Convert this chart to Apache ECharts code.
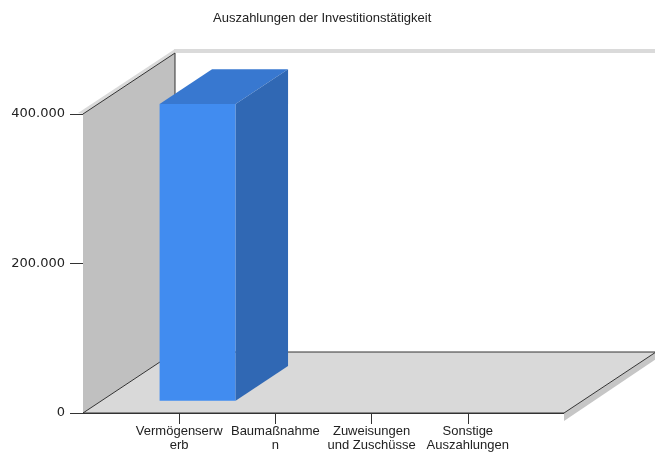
<!DOCTYPE html>
<html>
<head>
<meta charset="utf-8">
<script src="https://cdn.jsdelivr.net/npm/echarts@6/dist/echarts.min.js"></script>
<style>
  html, body { margin: 0; padding: 0; background: #fff; }
  #chart { width: 655px; height: 453px; }
</style>
</head>
<body>
<div id="chart"></div>
<script>
const TITLE = "Auszahlungen der Investitionstätigkeit";
// categories sit at x = 1..4 on a 0..5 axis, as in the original 3D chart
const CATEGORY_POS = [1, 2, 3, 4];
const CATEGORIES = ["Vermögenserwerb", "Baumaßnahmen", "Zuweisungen und Zuschüsse", "Sonstige Auszahlungen"];
const TICK_LABELS = ["Vermögenserw\nerb", "Baumaßnahme\nn", "Zuweisungen\nund Zuschüsse", "Sonstige\nAuszahlungen"];
const VALUES = [397000, 0, 0, 0];
const X_MIN = 0, X_MAX = 5;
const Y_MIN = 0, Y_MAX = 400000, Y_STEP = 200000;

// oblique depth of the 3D box, in pixels
const DEPTH = [92, -61];
const BAR_WIDTH = 0.79;
const BAR_FRONT = 0.2;
const BAR_BACK = 0.77;

const EDGE = "#333";
const TEXT = "#222";

function formatThousands(v) {
  return String(v).replace(/\B(?=(\d{3})+(?!\d))/g, ".");
}

function line(p1, p2) {
  return {
    type: "line",
    shape: { x1: p1[0], y1: p1[1], x2: p2[0], y2: p2[1] },
    style: { stroke: EDGE, lineWidth: 1 },
  };
}

function poly(points, fill) {
  return { type: "polygon", shape: { points }, style: { fill } };
}

function renderWalls(params, api) {
  const o = api.coord([X_MIN, Y_MIN]);
  const tr = api.coord([X_MAX, Y_MAX]);
  const dx = DEPTH[0], dy = DEPTH[1];
  const bx = o[0] + dx;

  const children = [
    // back wall
    poly([[bx, tr[1] + dy], [tr[0] + dx, tr[1] + dy], [tr[0] + dx, o[1] + dy], [bx, o[1] + dy]], "#fff"),
    // back wall thickness along the top
    poly([[bx - 1, tr[1] + dy - 4], [tr[0] + dx + 2, tr[1] + dy - 4], [tr[0] + dx + 2, tr[1] + dy], [bx, tr[1] + dy]], "#dadada"),
    // left wall thickness
    poly([[o[0], tr[1]], [bx, tr[1] + dy], [bx, tr[1] + dy - 4], [o[0] - 5, tr[1] - 1]], "#dadada"),
    // left wall
    poly([[o[0], o[1]], [o[0], tr[1]], [bx, tr[1] + dy], [bx, o[1] + dy]], "#c0c0c0"),
    // floor thickness on the right
    poly([[tr[0], o[1]], [tr[0] + dx, o[1] + dy], [tr[0] + dx, o[1] + dy + 7], [tr[0], o[1] + 8]], "#c6c6c6"),
    // floor
    poly([[o[0], o[1]], [tr[0], o[1]], [tr[0] + dx, o[1] + dy], [bx, o[1] + dy]], "#d9d9d9"),
    line([o[0], tr[1]], [bx, tr[1] + dy]),
    line([o[0], o[1]], [bx, o[1] + dy]),
    line([bx, tr[1] + dy], [bx, o[1] + dy]),
    line([bx, o[1] + dy], [tr[0] + dx, o[1] + dy]),
    line([tr[0], o[1]], [tr[0] + dx, o[1] + dy]),
    line([o[0], o[1]], [tr[0], o[1]]),
  ];
  return { type: "group", children };
}

function renderBar(params, api) {
  const x = api.value(0);
  const v = api.value(1);
  if (!v) return null;
  const tl = api.coord([x - BAR_WIDTH / 2, v]);
  const br = api.coord([x + BAR_WIDTH / 2, Y_MIN]);
  const fx = BAR_FRONT * DEPTH[0], fy = BAR_FRONT * DEPTH[1];
  const x0 = tl[0] + fx, x1 = br[0] + fx;
  const yt = tl[1] + fy, yb = br[1] + fy;
  const ddx = (BAR_BACK - BAR_FRONT) * DEPTH[0];
  const ddy = (BAR_BACK - BAR_FRONT) * DEPTH[1];
  return {
    type: "group",
    children: [
      poly([[x0, yt], [x1, yt], [x1, yb], [x0, yb]], "#418cf0"),
      poly([[x0, yt], [x1, yt], [x1 + ddx, yt + ddy], [x0 + ddx, yt + ddy]], "#3878d0"),
      poly([[x1, yt], [x1 + ddx, yt + ddy], [x1 + ddx, yb + ddy], [x1, yb]], "#3068b4"),
    ],
  };
}

const chart = echarts.init(document.getElementById("chart"));
chart.setOption({
  animation: false,
  backgroundColor: "#fff",
  title: {
    text: TITLE,
    left: 213,
    top: 12,
    padding: 0,
    textStyle: { fontFamily: "Liberation Sans", fontSize: 13, fontWeight: "normal", color: TEXT },
  },
  grid: { left: 83, right: 91, top: 114, bottom: 40, containLabel: false },
  xAxis: {
    type: "value",
    min: X_MIN,
    max: X_MAX,
    interval: 1,
    splitLine: { show: false },
    axisLine: { show: true, lineStyle: { color: EDGE, width: 1 } },
    axisTick: { show: true, customValues: CATEGORY_POS, length: 11, lineStyle: { color: EDGE } },
    axisLabel: {
      customValues: CATEGORY_POS,
      formatter: (v) => TICK_LABELS[CATEGORY_POS.indexOf(v)] || "",
      margin: 12,
      fontFamily: "Liberation Sans",
      fontSize: 13,
      lineHeight: 13.5,
      color: TEXT,
    },
  },
  yAxis: {
    type: "value",
    min: Y_MIN,
    max: Y_MAX,
    interval: Y_STEP,
    splitLine: { show: false },
    axisLine: { show: true, lineStyle: { color: EDGE, width: 1 } },
    axisTick: { show: true, length: 13, lineStyle: { color: EDGE } },
    axisLabel: {
      formatter: formatThousands,
      margin: 18,
      fontFamily: "DejaVu Sans",
      fontSize: 13,
      color: TEXT,
    },
  },
  series: [
    {
      name: "walls",
      type: "custom",
      silent: true,
      z: 1,
      renderItem: renderWalls,
      data: [[X_MIN, Y_MIN]],
    },
    {
      name: "Auszahlungen",
      type: "custom",
      z: 3,
      renderItem: renderBar,
      data: CATEGORY_POS.map((p, i) => [p, VALUES[i], CATEGORIES[i]]),
    },
  ],
});
</script>
</body>
</html>
